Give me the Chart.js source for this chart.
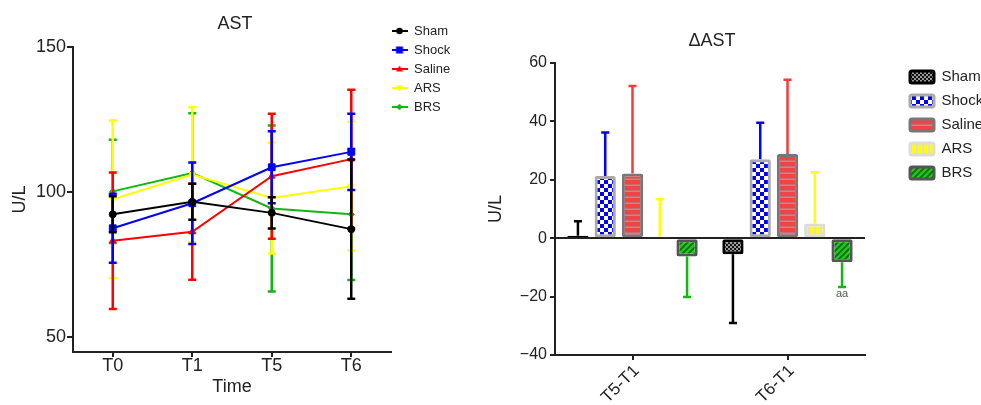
<!DOCTYPE html>
<html><head><meta charset="utf-8">
<script src="https://cdn.jsdelivr.net/npm/chart.js@4"></script>
<style>
html,body{margin:0;padding:0;background:#fff;}
#wrap{position:relative;width:981px;height:405px;overflow:hidden;background:#fff;}
#c1{position:absolute;left:0;top:0;}
#c2{position:absolute;left:480px;top:0;}
</style></head><body>
<div id="wrap"><canvas id="c1" width="480" height="405"></canvas><canvas id="c2" width="501" height="405"></canvas></div>
<script>
// ---------- data ----------
const timeLabels = ['T0', 'T1', 'T5', 'T6'];
const leftTicks = [50, 100, 150];
const groupNames = ['Sham', 'Shock', 'Saline', 'ARS', 'BRS'];

const shamMean   = [92.4, 96.7, 92.9, 87.3];
const shamSem    = [6.2, 6.2, 5.4, 24.0];
const shockMean  = [87.6, 96.2, 108.6, 113.9];
const shockSem   = [11.9, 14.0, 12.4, 13.1];
const salineMean = [83.3, 86.4, 105.5, 111.4];
const salineSem  = [23.5, 16.5, 21.5, 23.9];
const arsMean    = [97.6, 106.1, 98.0, 102.1];
const arsSem     = [27.1, 23.2, 19.1, 22.2];
const brsMean    = [100.3, 106.6, 94.4, 92.4];
const brsSem     = [17.8, 20.6, 28.6, 22.6];

const deltaLabels = ['T5-T1', 'T6-T1'];
const rightTicks = [-40, -20, 0, 20, 40, 60];
const shamDelta     = [0.8, -5.5];
const shamDeltaSem  = [5.0, 23.5];
const shockDelta    = [21.3, 27.0];
const shockDeltaSem = [14.9, 12.5];
const salineDelta   = [22.2, 28.8];
const salineDeltaSem= [29.9, 25.5];
const arsDelta      = [0.6, 5.0];
const arsDeltaSem   = [12.7, 17.6];
const brsDelta      = [-6.3, -8.2];
const brsDeltaSem   = [13.8, 8.5];

const annotations = [{ group: 'BRS', category: 'T6-T1', text: 'aa' }];

// ---------- styling ----------
const FONT = "'Liberation Sans', Arial, Helvetica, sans-serif";
Chart.defaults.font.family = FONT;
Chart.defaults.color = '#222';
const lineColors = ['#000000', '#0000ff', '#ff0000', '#ffff00', '#13b513'];
const pointStyles = ['circle', 'rect', 'triangle', 'triangle', 'rectRot'];
const pointRot = [0, 0, 0, 180, 0];
const pointRadii = [3.5, 4.8, 3.8, 3.8, 3.2];

function makeIcon(color, shape) {
  const c = document.createElement('canvas');
  c.width = 16; c.height = 10;
  const g = c.getContext('2d');
  g.strokeStyle = color; g.fillStyle = color; g.lineWidth = 2;
  g.beginPath(); g.moveTo(0, 5); g.lineTo(16, 5); g.stroke();
  g.beginPath();
  if (shape === 0) { g.arc(8, 5, 3.2, 0, Math.PI * 2); }
  else if (shape === 1) { g.rect(4.5, 1.5, 7, 7); }
  else if (shape === 2) { g.moveTo(8, 1.5); g.lineTo(11.5, 7.5); g.lineTo(4.5, 7.5); g.closePath(); }
  else if (shape === 3) { g.moveTo(8, 8.5); g.lineTo(11.5, 2.5); g.lineTo(4.5, 2.5); g.closePath(); }
  else { g.moveTo(8, 1.8); g.lineTo(11.2, 5); g.lineTo(8, 8.2); g.lineTo(4.8, 5); g.closePath(); }
  g.fill();
  return c;
}
const legendIcons = lineColors.map((c, i) => makeIcon(c, i));

function makePattern(kind) {
  const c = document.createElement('canvas');
  const g = c.getContext('2d');
  if (kind === 0) { // Sham: black with grey speckle
    c.width = 4; c.height = 4; g.fillStyle = '#111'; g.fillRect(0, 0, 4, 4);
    g.fillStyle = '#9a9a9a'; g.fillRect(0, 0, 2, 2); g.fillRect(2, 2, 2, 2);
  } else if (kind === 1) { // Shock: blue checker on white
    c.width = 8; c.height = 8; g.fillStyle = '#ffffff'; g.fillRect(0, 0, 8, 8);
    g.fillStyle = '#0000ff'; g.fillRect(0, 0, 4, 4); g.fillRect(4, 4, 4, 4);
  } else if (kind === 2) { // Saline: red with grey horizontal lines
    c.width = 6; c.height = 6; g.fillStyle = '#f24444'; g.fillRect(0, 0, 6, 6);
    g.fillStyle = '#9a9a9a'; g.fillRect(0, 4.5, 6, 1.5);
  } else if (kind === 3) { // ARS: yellow vertical stripes
    c.width = 6; c.height = 6; g.fillStyle = '#ffff00'; g.fillRect(0, 0, 6, 6);
    g.fillStyle = '#dddddd'; g.fillRect(4, 0, 2, 6);
  } else { // BRS: green diagonal stripes
    c.width = 6; c.height = 6; g.fillStyle = '#22c422'; g.fillRect(0, 0, 6, 6);
    g.strokeStyle = '#066a06'; g.lineWidth = 1.6;
    g.beginPath();
    g.moveTo(-1, 7); g.lineTo(7, -1);
    g.moveTo(-4, 4); g.lineTo(4, -4);
    g.moveTo(2, 10); g.lineTo(10, 2);
    g.stroke();
  }
  return document.createElement('canvas').getContext('2d').createPattern(c, 'repeat');
}
const barFills = [0, 1, 2, 3, 4].map(makePattern);
const barBorders = ['#000000', '#aaaaaa', '#777777', '#dcdcdc', '#555555'];
const barErrColors = ['#000000', '#0000ff', '#f23c3c', '#ffff00', '#10b810'];

// ---------- plugins ----------
function drawErrors(chart, index, opts) {
  const ds = chart.data.datasets[index];
  if (!ds.errors) return;
  const meta = chart.getDatasetMeta(index);
  const ys = chart.scales.y;
  const ctx = chart.ctx;
  ctx.save();
  ctx.strokeStyle = ds.errorColor;
  ctx.lineWidth = opts.lineWidth;
  const hw = opts.capWidth / 2;
  meta.data.forEach((el, i) => {
    const v = ds.data[i], e = ds.errors[i];
    let lo, hi;
    if (opts.oneSided) { lo = v; hi = v >= 0 ? v + e : v - e; }
    else { lo = v - e; hi = v + e; }
    const pLo = ys.getPixelForValue(lo), pHi = ys.getPixelForValue(hi);
    ctx.beginPath();
    ctx.moveTo(el.x, pLo); ctx.lineTo(el.x, pHi);
    ctx.moveTo(el.x - hw, pHi); ctx.lineTo(el.x + hw, pHi);
    if (!opts.oneSided) { ctx.moveTo(el.x - hw, pLo); ctx.lineTo(el.x + hw, pLo); }
    ctx.stroke();
  });
  ctx.restore();
}
const errorBarPlugin = {
  id: 'errorBars',
  beforeDatasetDraw(chart, args, opts) { if (opts.under) drawErrors(chart, args.index, opts); },
  afterDatasetDraw(chart, args, opts) { if (!opts.under) drawErrors(chart, args.index, opts); }
};
const placeBoxes = {
  id: 'placeBoxes',
  afterLayout(chart, args, o) {
    if (o.legend && chart.legend) {
      const l = chart.legend;
      l.left = o.legend.left; l.right = l.left + 150; l.width = 150;
      l.top = o.legend.top; l.bottom = l.top + 250; l.height = 250;
    }
    if (o.title && chart.titleBlock) {
      const t = chart.titleBlock;
      t.left = o.title.left; t.right = o.title.right; t.width = t.right - t.left;
    }
  }
};
const annotationPlugin = {
  id: 'sigMarks',
  afterDatasetsDraw(chart, args, opts) {
    if (!opts.items) return;
    const ctx = chart.ctx;
    const ys = chart.scales.y;
    ctx.save();
    ctx.font = '11px ' + FONT;
    ctx.fillStyle = '#555';
    ctx.textAlign = 'center';
    ctx.textBaseline = 'middle';
    opts.items.forEach(a => {
      const di = groupNames.indexOf(a.group);
      const ci = deltaLabels.indexOf(a.category);
      const ds = chart.data.datasets[di];
      const el = chart.getDatasetMeta(di).data[ci];
      const v = ds.data[ci], e = ds.errors[ci];
      const end = v >= 0 ? v + e : v - e;
      ctx.fillText(a.text, el.x, ys.getPixelForValue(end) + (v >= 0 ? -7 : 7));
    });
    ctx.restore();
  }
};

// ---------- left chart ----------
const leftMeans = [shamMean, shockMean, salineMean, arsMean, brsMean];
const leftSems = [shamSem, shockSem, salineSem, arsSem, brsSem];
new Chart(document.getElementById('c1'), {
  type: 'line',
  data: {
    labels: timeLabels,
    datasets: groupNames.map((n, i) => ({
      label: n,
      data: leftMeans[i],
      errors: leftSems[i],
      errorColor: lineColors[i],
      borderColor: lineColors[i],
      backgroundColor: lineColors[i],
      borderWidth: 2,
      tension: 0,
      pointStyle: pointStyles[i],
      rotation: pointRot[i],
      pointRadius: pointRadii[i],
      pointBorderWidth: 1,
      pointBackgroundColor: lineColors[i],
      pointBorderColor: lineColors[i]
    }))
  },
  plugins: [errorBarPlugin, placeBoxes],
  options: {
    responsive: false,
    animation: false,
    events: [],
    layout: { padding: { left: 0, right: 39, top: 0, bottom: 0 } },
    plugins: {
      tooltip: { enabled: false },
      errorBars: { lineWidth: 2.5, capWidth: 8, oneSided: false, under: false },
      placeBoxes: { legend: { left: 385.5, top: 18.5 }, title: { left: 0, right: 470 } },
      title: {
        display: true, text: 'AST', color: '#222',
        font: { size: 18, weight: 'normal' },
        padding: { top: 13, bottom: 12.4 }
      },
      legend: {
        position: 'right', align: 'start', maxWidth: 50,
        labels: {
          usePointStyle: true, pointStyleWidth: 16, padding: 6, color: '#222',
          font: { size: 13 },
          generateLabels(chart) {
            const items = Chart.defaults.plugins.legend.labels.generateLabels(chart);
            items.forEach((it, i) => { it.pointStyle = legendIcons[i]; it.rotation = 0; });
            return items;
          }
        }
      }
    },
    scales: {
      x: {
        type: 'category', offset: true,
        afterFit(s) { s.height = 53; },
        grid: { offset: false, drawOnChartArea: false, tickLength: 5, color: '#222', lineWidth: 2 },
        border: { display: true, color: '#222', width: 2 },
        ticks: { font: { size: 18 }, color: '#222', padding: -2, maxRotation: 0 },
        title: { display: true, text: 'Time', color: '#222', font: { size: 18 }, padding: { top: 0, bottom: 7.2 } }
      },
      y: {
        min: 45, max: 150,
        afterFit(s) { s.width = 73; },
        afterBuildTicks(s) { s.ticks = leftTicks.map(v => ({ value: v })); },
        grid: { drawOnChartArea: false, tickLength: 6, color: '#222', lineWidth: 2 },
        border: { display: true, color: '#222', width: 2 },
        ticks: { font: { size: 18 }, color: '#222', padding: 1 },
        title: { display: true, text: 'U/L', color: '#222', font: { size: 18 }, padding: { top: 9.2, bottom: 0 } }
      }
    }
  }
});

// ---------- right chart ----------
const deltaMeans = [shamDelta, shockDelta, salineDelta, arsDelta, brsDelta];
const deltaSems = [shamDeltaSem, shockDeltaSem, salineDeltaSem, arsDeltaSem, brsDeltaSem];
new Chart(document.getElementById('c2'), {
  type: 'bar',
  data: {
    labels: deltaLabels,
    datasets: groupNames.map((n, i) => ({
      label: n,
      data: deltaMeans[i],
      errors: deltaSems[i],
      errorColor: barErrColors[i],
      backgroundColor: barFills[i],
      borderColor: barBorders[i],
      borderWidth: 3,
      borderRadius: 2,
      borderSkipped: false,
      categoryPercentage: 0.88,
      barPercentage: 0.78
    }))
  },
  plugins: [errorBarPlugin, placeBoxes, annotationPlugin],
  options: {
    responsive: false,
    animation: false,
    events: [],
    layout: { padding: { left: 0, right: 66, top: 0, bottom: 0 } },
    plugins: {
      tooltip: { enabled: false },
      errorBars: { lineWidth: 2.5, capWidth: 8, oneSided: true, under: true },
      sigMarks: { items: annotations },
      placeBoxes: { legend: { left: 421, top: 60.5 }, title: { left: 0, right: 464 } },
      title: {
        display: true, text: 'ΔAST', color: '#222',
        font: { size: 18, weight: 'normal' },
        padding: { top: 30.2, bottom: 11.2 }
      },
      legend: {
        position: 'right', align: 'start', maxWidth: 50,
        labels: {
          boxWidth: 24, boxHeight: 12, padding: 9, color: '#222',
          useBorderRadius: true, borderRadius: 2,
          font: { size: 15 }
        }
      }
    },
    scales: {
      x: {
        type: 'category', offset: true,
        afterFit(s) { s.height = 50; },
        grid: { offset: false, drawOnChartArea: false, tickLength: 5, color: '#222', lineWidth: 2 },
        border: { display: true, color: '#222', width: 2 },
        ticks: { font: { size: 17 }, color: '#222', padding: 1, labelOffset: 4, minRotation: 45, maxRotation: 45 }
      },
      y: {
        min: -40, max: 60,
        afterFit(s) { s.width = 75; },
        afterBuildTicks(s) { s.ticks = rightTicks.map(v => ({ value: v })); },
        grid: {
          drawOnChartArea: true, tickLength: 5, lineWidth: 2, tickColor: '#222',
          color: c => (c.tick && c.tick.value === 0) ? '#222' : 'rgba(0,0,0,0)'
        },
        border: { display: true, color: '#222', width: 2 },
        ticks: {
          font: { size: 16 }, color: '#222', padding: 3,
          callback: v => String(v).replace('-', '\u2212')
        },
        title: { display: true, text: 'U/L', color: '#222', font: { size: 18 }, padding: { top: 5.2, bottom: 0 } }
      }
    }
  }
});
</script>
</body></html>
